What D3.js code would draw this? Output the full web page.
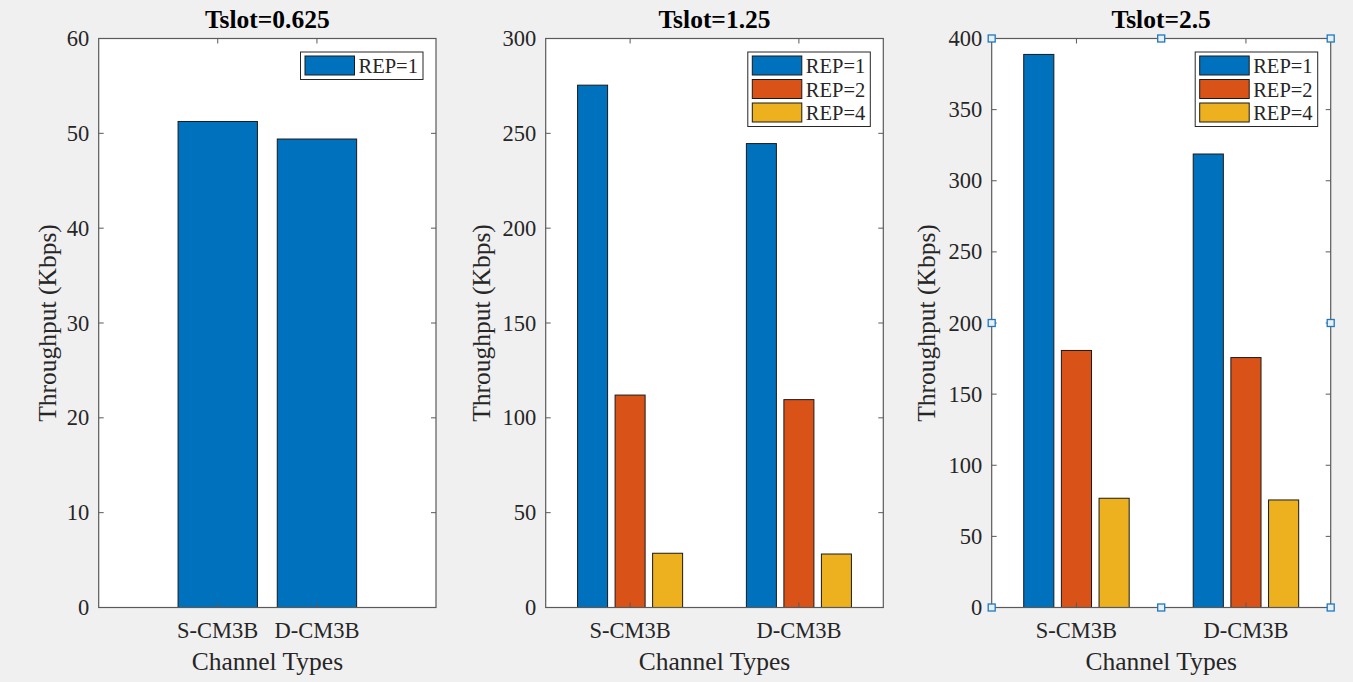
<!DOCTYPE html>
<html>
<head>
<meta charset="utf-8">
<script src="https://cdn.jsdelivr.net/npm/d3@7"></script>
<style>
  html, body { margin: 0; padding: 0; background: #f0f0f0; }
  svg { display: block; }
  text { font-family: "Liberation Serif", "Times New Roman", serif; fill: #262626; }
</style>
</head>
<body>
<svg id="chart" width="1353" height="682"></svg>
<script>
// Channel categories shared by all three panels
const categories = ["S-CM3B", "D-CM3B"];

// Throughput (Kbps), Tslot = 0.625
const tslot0625_rep1 = [51.25, 49.4];

// Throughput (Kbps), Tslot = 1.25
const tslot125_rep1 = [275.4, 244.6];
const tslot125_rep2 = [112.0, 109.6];
const tslot125_rep4 = [28.6, 28.2];

// Throughput (Kbps), Tslot = 2.5
const tslot25_rep1 = [388.8, 318.8];
const tslot25_rep2 = [180.7, 175.7];
const tslot25_rep4 = [76.8, 75.6];

// Axis ticks
const yTicks0625 = [0, 10, 20, 30, 40, 50, 60];
const yTicks125 = [0, 50, 100, 150, 200, 250, 300];
const yTicks25 = [0, 50, 100, 150, 200, 250, 300, 350, 400];

const seriesNames = ["REP=1", "REP=2", "REP=4"];
const colors = ["#0072BD", "#D95319", "#EDB120"];

const panels = [
  { title: "Tslot=0.625", left: 98.7, right: 436, series: [tslot0625_rep1],
    yMax: 60, yTicks: yTicks0625, xDomain: [-0.2, 3.2], ylabelOffset: 43, handles: false },
  { title: "Tslot=1.25", left: 545.7, right: 883.3, series: [tslot125_rep1, tslot125_rep2, tslot125_rep4],
    yMax: 300, yTicks: yTicks125, xDomain: [0.5, 2.5], ylabelOffset: 56, handles: false },
  { title: "Tslot=2.5", left: 991.7, right: 1330.7, series: [tslot25_rep1, tslot25_rep2, tslot25_rep4],
    yMax: 400, yTicks: yTicks25, xDomain: [0.5, 2.5], ylabelOffset: 57, handles: true }
];

const plotTop = 38.5, plotBottom = 607.5;
const tickLen = 5;
const svg = d3.select("#chart");

panels.forEach(p => {
  const g = svg.append("g");
  const x = d3.scaleLinear().domain(p.xDomain).range([p.left, p.right]);
  const y = d3.scaleLinear().domain([0, p.yMax]).range([plotBottom, plotTop]);

  // plot area
  g.append("rect")
    .attr("x", p.left).attr("y", plotTop)
    .attr("width", p.right - p.left).attr("height", plotBottom - plotTop)
    .attr("fill", "#ffffff");

  // grouped bar geometry (MATLAB-style)
  const n = p.series.length;
  const groupWidth = n === 1 ? 0.8 : Math.min(0.8, n / (n + 1.5));
  const slot = n === 1 ? 0.8 : groupWidth / n;
  const barW = n === 1 ? 0.8 : slot * 0.8;

  p.series.forEach((vals, si) => {
    const offset = n === 1 ? 0 : (si - (n - 1) / 2) * slot;
    g.selectAll(null)
      .data(vals)
      .enter()
      .append("rect")
      .attr("x", (d, i) => x(i + 1 + offset - barW / 2))
      .attr("width", (d, i) => x(i + 1 + offset + barW / 2) - x(i + 1 + offset - barW / 2))
      .attr("y", d => y(d))
      .attr("height", d => y(0) - y(d))
      .attr("fill", colors[si])
      .attr("stroke", "#1a1a1a")
      .attr("stroke-width", 1);
  });

  // box outline
  g.append("rect")
    .attr("x", p.left).attr("y", plotTop)
    .attr("width", p.right - p.left).attr("height", plotBottom - plotTop)
    .attr("fill", "none")
    .attr("stroke", "#5a5a5a")
    .attr("stroke-width", 1.2);

  // y ticks (left and right, inward)
  p.yTicks.forEach(t => {
    const yy = y(t);
    g.append("line").attr("x1", p.left).attr("x2", p.left + tickLen)
      .attr("y1", yy).attr("y2", yy).attr("stroke", "#5a5a5a");
    g.append("line").attr("x1", p.right).attr("x2", p.right - tickLen)
      .attr("y1", yy).attr("y2", yy).attr("stroke", "#5a5a5a");
    g.append("text")
      .attr("x", p.left - 9.5).attr("y", yy + 7.5)
      .attr("text-anchor", "end")
      .attr("font-size", 22.5)
      .text(t);
  });

  // x ticks (bottom and top, inward) with category labels
  categories.forEach((c, i) => {
    const xx = x(i + 1);
    g.append("line").attr("x1", xx).attr("x2", xx)
      .attr("y1", plotBottom).attr("y2", plotBottom - tickLen).attr("stroke", "#5a5a5a");
    g.append("line").attr("x1", xx).attr("x2", xx)
      .attr("y1", plotTop).attr("y2", plotTop + tickLen).attr("stroke", "#5a5a5a");
    g.append("text")
      .attr("x", xx).attr("y", 638)
      .attr("text-anchor", "middle")
      .attr("font-size", 22.5)
      .text(c);
  });

  const cx = (p.left + p.right) / 2;

  // title
  g.append("text")
    .attr("x", cx).attr("y", 28)
    .attr("text-anchor", "middle")
    .attr("font-size", 25.5)
    .attr("font-weight", "bold")
    .style("fill", "#000")
    .text(p.title);

  // axis labels
  g.append("text")
    .attr("x", cx).attr("y", 670)
    .attr("text-anchor", "middle")
    .attr("font-size", 25.5)
    .text("Channel Types");

  g.append("text")
    .attr("transform", `translate(${p.left - p.ylabelOffset},${(plotTop + plotBottom) / 2}) rotate(-90)`)
    .attr("text-anchor", "middle")
    .attr("font-size", 25.5)
    .text("Throughput (Kbps)");

  // legend
  const legRight = p.right - 13;
  const legW = 122.5;
  const rowH = 23.5;
  const legX = legRight - legW;
  const legY = 52;
  const legH = 27.5 + (n - 1) * rowH;
  const lg = g.append("g");
  lg.append("rect")
    .attr("x", legX).attr("y", legY)
    .attr("width", legW).attr("height", legH)
    .attr("fill", "#ffffff")
    .attr("stroke", "#262626")
    .attr("stroke-width", 1);
  for (let si = 0; si < n; si++) {
    const ry = legY + 4 + si * rowH;
    lg.append("rect")
      .attr("x", legX + 4.5).attr("y", ry)
      .attr("width", 49.5).attr("height", 19)
      .attr("fill", colors[si])
      .attr("stroke", "#1a1a1a")
      .attr("stroke-width", 1);
    lg.append("text")
      .attr("x", legX + 58).attr("y", ry + 17)
      .attr("font-size", 20.5)
      .text(seriesNames[si]);
  }

  // selection handles on the active axes
  if (p.handles) {
    const midY = (plotTop + plotBottom) / 2;
    const hx = [p.left, cx, p.right];
    const hy = [plotTop, midY, plotBottom];
    const pts = [];
    hx.forEach(a => hy.forEach(b => {
      if (!(a === cx && b === midY)) pts.push([a, b]);
    }));
    g.selectAll(null).data(pts).enter().append("rect")
      .attr("x", d => d[0] - 3.5).attr("y", d => d[1] - 3.5)
      .attr("width", 7).attr("height", 7)
      .attr("fill", "#e6f0f8")
      .attr("stroke", "#1f78c0")
      .attr("stroke-width", 1.3);
  }
});
</script>
</body>
</html>
